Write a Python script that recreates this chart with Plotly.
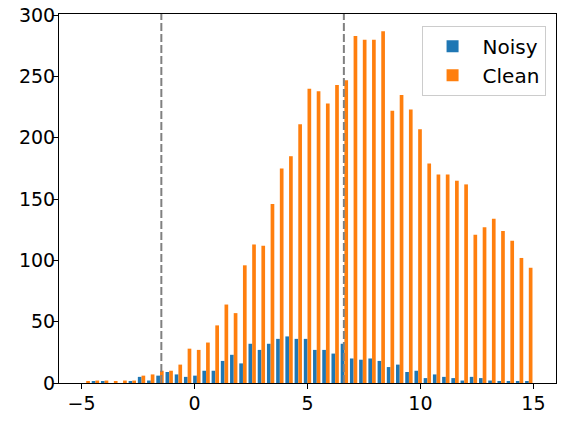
import numpy as np
import plotly.graph_objects as go

# histogram bins: 49 bins between -5 and 15
bin_edges = np.linspace(-5, 15, 50)

noisy_counts = [
    0, 1, 1, 0, 0, 1, 5, 2, 6, 9,
    7, 5, 6, 10, 10, 18, 23, 16, 32, 27,
    32, 36, 38, 36, 36, 27, 27, 24, 32, 20,
    19, 20, 18, 13, 15, 9, 10, 4, 7, 5,
    4, 2, 5, 4, 2, 1, 1, 1, 1,
]
clean_counts = [
    1, 2, 2, 1, 2, 2, 6, 7, 10, 10,
    15, 28, 27, 33, 47, 64, 57, 96, 113, 112,
    146, 175, 185, 211, 240, 238, 228, 243, 247, 283,
    280, 280, 287, 222, 235, 223, 207, 179, 170, 170,
    165, 162, 121, 127, 134, 124, 116, 102, 94,
]
series_names = ["Noisy", "Clean"]
series_colors = ["#1f77b4", "#ff7f0e"]

# dashed reference lines
vlines = [-1.47, 6.61]

x_ticks = [-5, 0, 5, 10, 15]
y_ticks = [0, 50, 100, 150, 200, 250, 300]

bin_centers = (bin_edges[:-1] + bin_edges[1:]) / 2
bin_width = bin_edges[1] - bin_edges[0]

fig = go.Figure()

for name, counts, color in zip(series_names, [noisy_counts, clean_counts], series_colors):
    fig.add_trace(
        go.Bar(
            x=bin_centers,
            y=counts,
            width=bin_width * 0.4,
            name=name,
            marker=dict(color=color, line=dict(width=0)),
        )
    )

for xv in vlines:
    fig.add_shape(
        type="line",
        xref="x",
        yref="paper",
        x0=xv,
        x1=xv,
        y0=0,
        y1=1,
        line=dict(color="#808080", width=2, dash="8px,3px"),
        layer="above",
    )

fig.update_layout(
    width=565,
    height=423,
    margin=dict(l=59, r=9, t=14, b=40),
    barmode="group",
    bargap=0.2,
    bargroupgap=0,
    plot_bgcolor="white",
    paper_bgcolor="white",
    font=dict(family="DejaVu Sans", size=19, color="black"),
    legend=dict(
        x=0.979,
        y=0.968,
        xanchor="right",
        yanchor="top",
        bgcolor="rgba(255,255,255,0.8)",
        bordercolor="#cccccc",
        borderwidth=1,
        font=dict(size=20),
        itemwidth=50,
    ),
)

fig.update_xaxes(
    range=[-6, 16],
    tickvals=x_ticks,
    automargin=False,
    ticklabelstandoff=-2,
    showgrid=False,
    zeroline=False,
    showline=True,
    mirror=True,
    linecolor="black",
    linewidth=1,
    ticks="outside",
    ticklen=5,
    tickwidth=1,
    tickcolor="black",
)
fig.update_yaxes(
    range=[0, 301],
    tickvals=y_ticks,
    automargin=False,
    ticklabelstandoff=-6,
    showgrid=False,
    zeroline=False,
    showline=True,
    mirror=True,
    linecolor="black",
    linewidth=1,
    ticks="outside",
    ticklen=5,
    tickwidth=1,
    tickcolor="black",
)

# drop the default page margin so the figure sits at the window corner
fig.write_html(
    "out.html",
    config={"displayModeBar": False},
    post_script="document.body.style.margin = '0';",
)
